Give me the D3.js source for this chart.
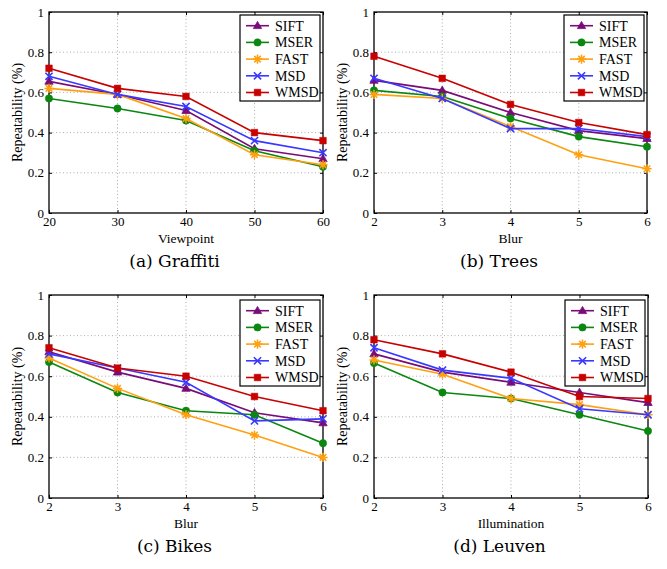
<!DOCTYPE html>
<html><head><meta charset="utf-8">
<script src="https://cdn.jsdelivr.net/npm/d3@7"></script>
<style>body{margin:0;background:#fff}svg{display:block}</style></head>
<body>
<svg id="chart" width="667" height="569"></svg>
<script>
const methods = ["SIFT", "MSER", "FAST", "MSD", "WMSD"];
const colors = ["#780c78", "#0a870f", "#ffa010", "#3838ff", "#c80000"];
const yTicks = [0, 0.2, 0.4, 0.6, 0.8, 1];

const graffitiX = [20, 30, 40, 50, 60];
const graffitiSIFT = [0.655, 0.59, 0.51, 0.32, 0.27];
const graffitiMSER = [0.57, 0.52, 0.46, 0.31, 0.23];
const graffitiFAST = [0.62, 0.59, 0.47, 0.29, 0.24];
const graffitiMSD  = [0.68, 0.59, 0.53, 0.36, 0.30];
const graffitiWMSD = [0.72, 0.62, 0.58, 0.40, 0.36];

const treesX = [2, 3, 4, 5, 6];
const treesSIFT = [0.66, 0.61, 0.50, 0.41, 0.37];
const treesMSER = [0.61, 0.58, 0.47, 0.38, 0.33];
const treesFAST = [0.59, 0.57, 0.43, 0.29, 0.22];
const treesMSD  = [0.67, 0.57, 0.42, 0.42, 0.38];
const treesWMSD = [0.78, 0.67, 0.54, 0.45, 0.39];

const bikesX = [2, 3, 4, 5, 6];
const bikesSIFT = [0.72, 0.62, 0.54, 0.42, 0.37];
const bikesMSER = [0.67, 0.52, 0.43, 0.41, 0.27];
const bikesFAST = [0.69, 0.54, 0.41, 0.31, 0.20];
const bikesMSD  = [0.71, 0.64, 0.57, 0.38, 0.39];
const bikesWMSD = [0.74, 0.64, 0.60, 0.50, 0.43];

const leuvenX = [2, 3, 4, 5, 6];
const leuvenSIFT = [0.71, 0.62, 0.57, 0.52, 0.47];
const leuvenMSER = [0.665, 0.52, 0.49, 0.41, 0.33];
const leuvenFAST = [0.68, 0.61, 0.49, 0.46, 0.41];
const leuvenMSD  = [0.74, 0.63, 0.59, 0.44, 0.41];
const leuvenWMSD = [0.78, 0.71, 0.62, 0.50, 0.49];

const panels = [
  {caption: "(a) Graffiti", xLabel: "Viewpoint", xs: graffitiX,
   series: [graffitiSIFT, graffitiMSER, graffitiFAST, graffitiMSD, graffitiWMSD],
   box: {l: 49, r: 323, t: 12, b: 213}},
  {caption: "(b) Trees", xLabel: "Blur", xs: treesX,
   series: [treesSIFT, treesMSER, treesFAST, treesMSD, treesWMSD],
   box: {l: 374, r: 647, t: 12, b: 213}},
  {caption: "(c) Bikes", xLabel: "Blur", xs: bikesX,
   series: [bikesSIFT, bikesMSER, bikesFAST, bikesMSD, bikesWMSD],
   box: {l: 49, r: 323, t: 295, b: 498}},
  {caption: "(d) Leuven", xLabel: "Illumination", xs: leuvenX,
   series: [leuvenSIFT, leuvenMSER, leuvenFAST, leuvenMSD, leuvenWMSD],
   box: {l: 374, r: 648, t: 295, b: 498}}
];

const svg = d3.select("#chart");
const serif = "'Liberation Serif', 'Times New Roman', serif";

function drawMarker(g, i, x, y, color) {
  if (i === 0) {
    g.append("path").attr("d", d3.symbol(d3.symbolTriangle, 30)())
      .attr("transform", `translate(${x},${y + 0.5})`).attr("fill", color).attr("stroke", color).attr("stroke-width", 0.8);
  } else if (i === 1) {
    g.append("circle").attr("cx", x).attr("cy", y).attr("r", 3.7).attr("fill", color).attr("stroke", color).attr("stroke-width", 0.5);
  } else if (i === 2) {
    const r = 4.6, p = d3.path();
    for (let k = 0; k < 4; k++) {
      const a = k * Math.PI / 4;
      p.moveTo(x - r * Math.cos(a), y - r * Math.sin(a));
      p.lineTo(x + r * Math.cos(a), y + r * Math.sin(a));
    }
    g.append("path").attr("d", p.toString()).attr("stroke", color).attr("stroke-width", 1.5).attr("fill", "none");
  } else if (i === 3) {
    const r = 3.6, p = d3.path();
    p.moveTo(x - r, y - r); p.lineTo(x + r, y + r);
    p.moveTo(x - r, y + r); p.lineTo(x + r, y - r);
    g.append("path").attr("d", p.toString()).attr("stroke", color).attr("stroke-width", 1.6).attr("fill", "none");
  } else {
    g.append("path").attr("d", d3.symbol(d3.symbolSquare, 44)())
      .attr("transform", `translate(${x},${y})`).attr("fill", color).attr("stroke", color).attr("stroke-width", 0.5);
  }
}

panels.forEach(P => {
  const B = P.box;
  const x = d3.scaleLinear().domain(d3.extent(P.xs)).range([B.l, B.r]);
  const y = d3.scaleLinear().domain([0, 1]).range([B.b, B.t]);
  const g = svg.append("g");

  // grid
  const grid = g.append("g").attr("stroke", "#9a9a9a").attr("stroke-width", 0.8).attr("stroke-dasharray", "1,2.5");
  P.xs.slice(1, -1).forEach(v => grid.append("line").attr("x1", x(v)).attr("x2", x(v)).attr("y1", B.t).attr("y2", B.b));
  yTicks.slice(1, -1).forEach(v => grid.append("line").attr("x1", B.l).attr("x2", B.r).attr("y1", y(v)).attr("y2", y(v)));

  // axes
  const xAxis = d3.axisBottom(x).tickValues(P.xs).tickSize(-3).tickPadding(4).tickFormat(d3.format("d"));
  const yAxis = d3.axisLeft(y).tickValues(yTicks).tickSize(-3).tickPadding(5).tickFormat(d => d === 0 || d === 1 ? String(d) : d3.format(".1f")(d));
  const xa = g.append("g").attr("transform", `translate(0,${B.b})`).call(xAxis);
  const ya = g.append("g").attr("transform", `translate(${B.l},0)`).call(yAxis);
  const xt = g.append("g").attr("transform", `translate(0,${B.t})`).call(d3.axisTop(x).tickValues(P.xs).tickSize(-3).tickFormat(""));
  const yr = g.append("g").attr("transform", `translate(${B.r},0)`).call(d3.axisRight(y).tickValues(yTicks).tickSize(-3).tickFormat(""));
  [xa, ya, xt, yr].forEach(a => {
    a.select(".domain").remove();
    a.selectAll("line").attr("stroke", "#000").attr("stroke-width", 1);
    a.selectAll("text").attr("font-family", serif).attr("font-size", 13).attr("fill", "#000");
  });
  g.append("rect").attr("x", B.l).attr("y", B.t).attr("width", B.r - B.l).attr("height", B.b - B.t)
    .attr("fill", "none").attr("stroke", "#000").attr("stroke-width", 1.3);

  // series
  const line = d3.line().x((d, i) => x(P.xs[i])).y(d => y(d));
  P.series.forEach((vals, i) => {
    g.append("path").datum(vals).attr("d", line).attr("fill", "none")
      .attr("stroke", colors[i]).attr("stroke-width", 1.6);
    vals.forEach((v, j) => drawMarker(g, i, x(P.xs[j]), y(v), colors[i]));
  });

  // labels
  g.append("text").attr("x", (B.l + B.r) / 2).attr("y", B.b + 30).attr("text-anchor", "middle")
    .attr("font-family", serif).attr("font-size", 13.5).text(P.xLabel);
  const ylx = B.l - 32;
  g.append("text").attr("transform", `translate(${ylx},${(B.t + B.b) / 2}) rotate(-90)`).attr("text-anchor", "middle")
    .attr("dy", "0.35em").attr("font-family", serif).attr("font-size", 14).text("Repeatability (%)");
  g.append("text").attr("x", (B.l + B.r) / 2 - 11.5).attr("y", B.b + 54).attr("text-anchor", "middle")
    .attr("font-family", "'DejaVu Serif', serif").attr("font-size", 17).text(P.caption);

  // legend
  const lw = 80, lh = 86;
  const lx = B.r - 3 - lw, ly = B.t + 3 + (B.t > 100 ? 2 : 0);
  const lg = g.append("g").attr("transform", `translate(${lx},${ly})`);
  lg.append("rect").attr("width", lw).attr("height", lh).attr("fill", "#fff").attr("stroke", "#000").attr("stroke-width", 1.2);
  methods.forEach((m, i) => {
    const yy = 10.7 + i * 16.7;
    lg.append("line").attr("x1", 6).attr("x2", 29).attr("y1", yy).attr("y2", yy).attr("stroke", colors[i]).attr("stroke-width", 1.6);
    drawMarker(lg, i, 17.5, yy, colors[i]);
    lg.append("text").attr("x", 35).attr("y", yy).attr("dy", "0.35em").attr("font-family", serif)
      .attr("font-size", 14).text(m);
  });
});
</script>
</body></html>
